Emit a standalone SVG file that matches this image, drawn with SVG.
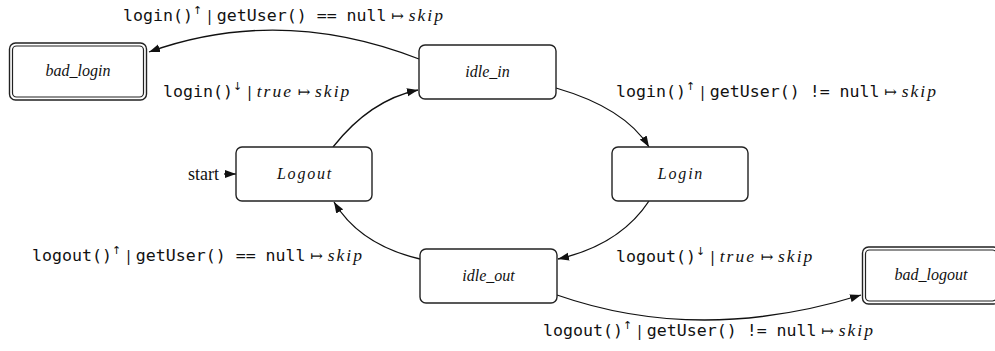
<svg xmlns="http://www.w3.org/2000/svg" width="995" height="351" viewBox="0 0 995 351">
<style>
.box{fill:#fff;stroke:#222;stroke-width:1.4}
.dbl{fill:none;stroke:#222;stroke-width:1.2}
.nl{font-family:"Liberation Serif",serif;font-style:italic;font-size:16px;fill:#111;text-anchor:middle}
.ml{letter-spacing:1.8px}
.edge{fill:none;stroke:#111;stroke-width:1.3;marker-end:url(#ah)}
.lbl{font-size:16.6px;fill:#111}
.m{font-family:"DejaVu Sans Mono",monospace}
.s{font-family:"DejaVu Sans",sans-serif;font-size:11px}
.r{font-family:"DejaVu Serif",serif;font-size:15px}
.i{font-family:"Liberation Serif",serif;font-style:italic;font-size:17.5px;letter-spacing:2px}
</style>
<defs>
<marker id="ah" markerWidth="11" markerHeight="9" refX="11" refY="4.5" orient="auto" markerUnits="userSpaceOnUse">
<path d="M0,0.5 L11,4.5 L0,8.5 z" fill="#111"/>
</marker>
</defs>
<g id="connectors">
<path class="edge" d="M419,59 Q280,5 149,52"/>
<path class="edge" d="M333,147 Q370,100 418,90"/>
<path class="edge" d="M556,88 Q625,108 649,147"/>
<path class="edge" d="M649,201 Q620,245 558,259"/>
<path class="edge" d="M420,259 Q360,245 334,202"/>
<path class="edge" d="M557,295 Q700,345 861,295"/>
<path class="edge" d="M224,174 L236,174"/>
</g>
<g id="bad_login">
<rect class="box" x="9.5" y="43" width="137" height="57" rx="6"/>
<rect class="dbl" x="12.5" y="46" width="131" height="51" rx="4"/>
<text class="nl" x="78" y="76">bad_login</text>
</g>
<g id="idle_in">
<rect class="box" x="419" y="45" width="137" height="54" rx="6"/>
<text class="nl" x="487.5" y="77">idle_in</text>
</g>
<g id="Logout">
<rect class="box" x="236" y="147" width="136" height="54" rx="6"/>
<text class="nl ml" x="305" y="179">Logout</text>
</g>
<g id="Login">
<rect class="box" x="612" y="147" width="136" height="54" rx="6"/>
<text class="nl ml" x="681" y="179">Login</text>
</g>
<g id="idle_out">
<rect class="box" x="420" y="249" width="137" height="54" rx="6"/>
<text class="nl" x="488.5" y="281">idle_out</text>
</g>
<g id="bad_logout">
<rect class="box" x="862.5" y="247" width="137" height="57" rx="6"/>
<rect class="dbl" x="865.5" y="250" width="131" height="51" rx="4"/>
<text class="nl" x="931" y="280">bad_logout</text>
</g>
<g id="start">
<text x="219" y="180" font-family="Liberation Serif,serif" font-size="18" fill="#111" text-anchor="end">start</text>
</g>
<g id="labels">
<text class="lbl" x="123" y="21"><tspan class="m">login()</tspan><tspan class="s" dy="-7">↑</tspan><tspan class="r" dy="7"> | </tspan><tspan class="m">getUser() == null</tspan><tspan class="r"> ↦ </tspan><tspan class="i">skip</tspan></text>
<text class="lbl" x="163" y="97"><tspan class="m">login()</tspan><tspan class="s" dy="-7">↓</tspan><tspan class="r" dy="7"> | </tspan><tspan class="i">true</tspan><tspan class="r"> ↦ </tspan><tspan class="i">skip</tspan></text>
<text class="lbl" x="616" y="97"><tspan class="m">login()</tspan><tspan class="s" dy="-7">↑</tspan><tspan class="r" dy="7"> | </tspan><tspan class="m">getUser() != null</tspan><tspan class="r"> ↦ </tspan><tspan class="i">skip</tspan></text>
<text class="lbl" x="32" y="261"><tspan class="m">logout()</tspan><tspan class="s" dy="-7">↑</tspan><tspan class="r" dy="7"> | </tspan><tspan class="m">getUser() == null</tspan><tspan class="r"> ↦ </tspan><tspan class="i">skip</tspan></text>
<text class="lbl" x="616" y="262"><tspan class="m">logout()</tspan><tspan class="s" dy="-7">↓</tspan><tspan class="r" dy="7"> | </tspan><tspan class="i">true</tspan><tspan class="r"> ↦ </tspan><tspan class="i">skip</tspan></text>
<text class="lbl" x="543" y="336"><tspan class="m">logout()</tspan><tspan class="s" dy="-7">↑</tspan><tspan class="r" dy="7"> | </tspan><tspan class="m">getUser() != null</tspan><tspan class="r"> ↦ </tspan><tspan class="i">skip</tspan></text>
</g>
</svg>
